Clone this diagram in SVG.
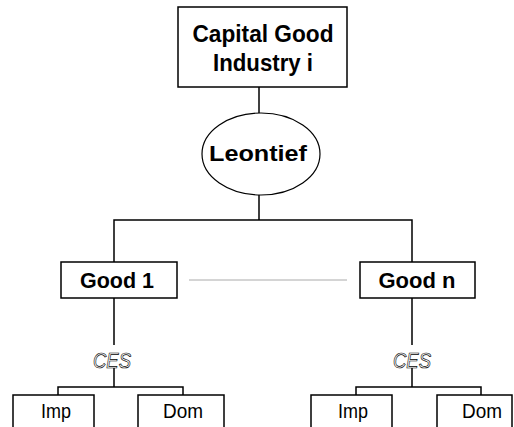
<svg xmlns="http://www.w3.org/2000/svg" width="514" height="427" viewBox="0 0 514 427">
<style>
.box{fill:#fff;stroke:#000;stroke-width:1.5}
.ln{fill:none;stroke:#000;stroke-width:1.5}
.b{font-family:"Liberation Sans",Arial,sans-serif;font-weight:bold;fill:#000;text-anchor:middle}
.r{font-family:"Liberation Sans",Arial,sans-serif;font-size:20px;fill:#000;text-anchor:middle}
.ces{font-family:"Liberation Sans",Arial,sans-serif;font-style:italic;font-size:22px;fill:#fff;stroke:#000;stroke-width:0.7;text-anchor:middle}
</style>
<rect width="514" height="427" fill="#fff"/>
<g id="connectors">
<line class="ln" x1="259" y1="87" x2="259" y2="113"/>
<path class="ln" d="M259 195 V220 M114 262 V220 H412 V262"/>
<line x1="189" y1="280" x2="347" y2="280" stroke="#aaa" stroke-width="1"/>
<path class="ln" d="M114 298 V345 M114 368 V387 M58 395 V387 H183 V395"/>
<path class="ln" d="M412 298 V345 M412 368 V387 M356 395 V387 H481 V395"/>
</g>
<g id="capital">
<rect class="box" x="178" y="7" width="169" height="80"/>
<text class="b" x="263" y="42" font-size="23" textLength="141" lengthAdjust="spacingAndGlyphs">Capital Good</text>
<text class="b" x="263" y="71" font-size="23" textLength="100" lengthAdjust="spacingAndGlyphs">Industry i</text>
</g>
<g id="leontief">
<ellipse cx="261" cy="154" rx="59" ry="41" fill="#fff" stroke="#000" stroke-width="1.2"/>
<text class="b" x="258" y="161" font-size="22" textLength="98" lengthAdjust="spacingAndGlyphs">Leontief</text>
</g>
<g id="good1">
<rect class="box" x="61" y="262" width="116" height="36"/>
<text class="b" x="117" y="288" font-size="22" textLength="74" lengthAdjust="spacingAndGlyphs">Good 1</text>
</g>
<g id="goodn">
<rect class="box" x="360" y="262" width="115" height="36"/>
<text class="b" x="417" y="288" font-size="22" textLength="77" lengthAdjust="spacingAndGlyphs">Good n</text>
</g>
<g id="ces1">
<text class="ces" x="112" y="368" textLength="38" lengthAdjust="spacingAndGlyphs">CES</text>
</g>
<g id="cesn">
<text class="ces" x="412" y="368" textLength="38" lengthAdjust="spacingAndGlyphs">CES</text>
</g>
<g id="imp1">
<rect class="box" x="13" y="395" width="81" height="40"/>
<text class="r" x="56" y="418" textLength="30" lengthAdjust="spacingAndGlyphs">Imp</text>
</g>
<g id="dom1">
<rect class="box" x="138" y="395" width="86" height="40"/>
<text class="r" x="183" y="418" textLength="40" lengthAdjust="spacingAndGlyphs">Dom</text>
</g>
<g id="impn">
<rect class="box" x="311" y="395" width="81" height="40"/>
<text class="r" x="353" y="418" textLength="30" lengthAdjust="spacingAndGlyphs">Imp</text>
</g>
<g id="domn">
<rect class="box" x="437" y="395" width="75" height="40"/>
<text class="r" x="482" y="418" textLength="40" lengthAdjust="spacingAndGlyphs">Dom</text>
</g>
</svg>
